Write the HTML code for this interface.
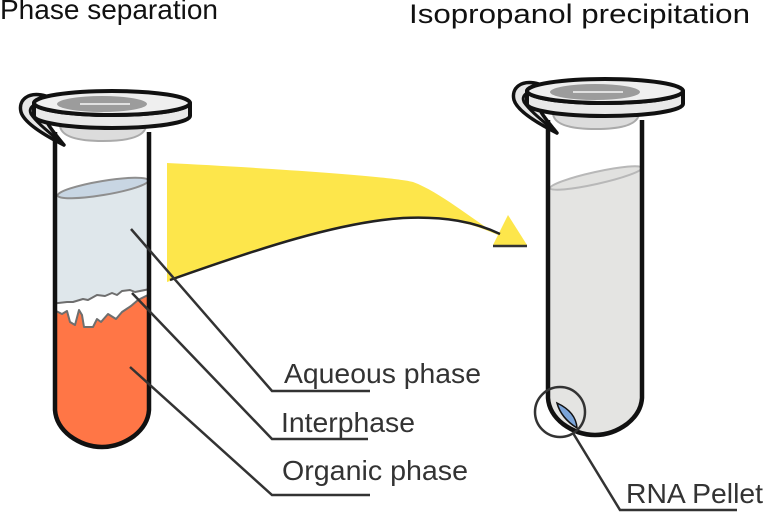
<!DOCTYPE html>
<html>
<head>
<meta charset="utf-8">
<style>
  html,body{margin:0;padding:0;background:#fff;}
  svg{display:block;}
  text{font-family:"Liberation Sans",Arial,sans-serif;}
</style>
</head>
<body>
<svg width="765" height="512" viewBox="0 0 765 512" xmlns="http://www.w3.org/2000/svg">
  <defs>
    <clipPath id="tubeL">
      <path d="M55,132 L55,410 Q56,425 70,436 Q85,447 102,447 Q119,447 134,436 Q148,425 149,410 L149,132 Z"/>
    </clipPath>
    <clipPath id="tubeR">
      <path d="M548,120 L548,398 Q549,413 563,424 Q578,435 595,435 Q612,435 627,424 Q641,413 642,398 L642,120 Z"/>
    </clipPath>
    <g id="lid">
      <!-- hinge -->
      <path d="M46,96 C28,91 18,100 21,112 C24,122 40,133 64,145 C52,130 44,122 44,110 Z" fill="#e6e6e6" stroke="#111" stroke-width="3.5" stroke-linejoin="round"/>
      <path d="M44,104 C34,102 28,108 31,114 C37,123 50,133 64,145" fill="none" stroke="#111" stroke-width="3"/>
      <!-- plug -->
      <path d="M60,126 Q62,141 103,141 Q144,141 146,126 Z" fill="#dcdcdc" stroke="#aaa" stroke-width="2"/>
      <!-- side band -->
      <path d="M34,103 A78,12 0 0 0 190,103 L190,116 A78,12 0 0 1 34,116 Z" fill="#e8e8e8" stroke="#111" stroke-width="4" stroke-linejoin="round"/>
      <!-- top -->
      <ellipse cx="112" cy="103" rx="78" ry="12" fill="#efefef" stroke="#111" stroke-width="4"/>
      <ellipse cx="102" cy="104" rx="45" ry="8" fill="#9c9c9c"/>
      <line x1="80" y1="104" x2="130" y2="104" stroke="#e0e0e0" stroke-width="2"/>
    </g>
  </defs>

  <!-- Titles -->
  <text x="0" y="19" font-size="28" fill="#111" textLength="218" lengthAdjust="spacingAndGlyphs">Phase separation</text>
  <text x="409" y="23" font-size="27" fill="#111" textLength="341" lengthAdjust="spacingAndGlyphs">Isopropanol precipitation</text>

  <!-- Yellow arrow -->
  <path d="M167,163 C250,167 390,176 413,182 C440,192 470,218 500,236 C470,222 440,216 403,218 C340,222 260,250 170,281 L167,282 Z" fill="#fde64b"/>
  <path d="M508,215 L527,245 L493,245 Z" fill="#fde64b"/>
  <path d="M170,280 C260,248 340,222 403,218 C445,216 475,222 500,234" fill="none" stroke="#222" stroke-width="2.5"/>
  <line x1="493" y1="246" x2="527" y2="246" stroke="#333" stroke-width="2.5"/>

  <!-- LEFT TUBE -->
  <g clip-path="url(#tubeL)">
    <path d="M50,196 L155,179 L155,320 L50,320 Z" fill="#dfe7eb"/>
    <path d="M50,304 L67,302 L73,302 L83,299 L88,300 L97,295 L105,296 L112,293 L117,295 L122,291 L130,290 L135,292 L155,288 L155,460 L50,460 Z" fill="#ff7646"/>
    <path d="M50,304 L67,302 L73,302 L83,299 L88,300 L97,295 L105,296 L112,293 L117,295 L122,291 L130,290 L135,292 L150,289 L150,294 L138,300 L131,306 L122,312 L116,319 L108,314 L101,322 L97,319 L93,327 L84,327 L82,315 L79,310 L75,325 L70,322 L67,311 L62,314 L50,308 Z" fill="#fff" stroke="#6e6e6e" stroke-width="2" stroke-linejoin="round"/>
  </g>
  <ellipse cx="103" cy="188" rx="46" ry="7" transform="rotate(-9.5 103 188)" fill="#c8d6e3" stroke="#8e8e8e" stroke-width="2"/>
  <path d="M55,132 L55,410 Q56,425 70,436 Q85,447 102,447 Q119,447 134,436 Q148,425 149,410 L149,132" fill="none" stroke="#111" stroke-width="4.5" stroke-linejoin="round"/>
  <use href="#lid"/>

  <!-- RIGHT TUBE -->
  <g clip-path="url(#tubeR)">
    <path d="M540,190 L650,166 L650,450 L540,450 Z" fill="#e4e4e2"/>
  </g>
  <ellipse cx="596" cy="178" rx="47" ry="6" transform="rotate(-12.5 596 178)" fill="#e1e1df" stroke="#b8b8b8" stroke-width="2"/>
  <path d="M557,403 Q561,418 577,428 Q576,412 557,403 Z" fill="#7ba4d8" stroke="#111" stroke-width="1.5"/>
  <path d="M548,120 L548,398 Q549,413 563,424 Q578,435 595,435 Q612,435 627,424 Q641,413 642,398 L642,120" fill="none" stroke="#111" stroke-width="4.5" stroke-linejoin="round"/>
  <g transform="translate(493,-12)"><use href="#lid"/></g>

  <!-- Leader lines -->
  <g fill="none" stroke="#333" stroke-width="2.5">
    <path d="M131,229 L272,391 L370,391"/>
    <path d="M132,293 L272,439 L368,439"/>
    <path d="M130,367 L272,495 L370,495"/>
    <circle cx="560" cy="412" r="25"/>
    <path d="M573,433 L620,510 L737,510"/>
  </g>

  <!-- Labels -->
  <g font-size="28" fill="#333">
    <text x="284" y="383" textLength="197" lengthAdjust="spacingAndGlyphs">Aqueous phase</text>
    <text x="281" y="432" textLength="134" lengthAdjust="spacingAndGlyphs">Interphase</text>
    <text x="282" y="480" textLength="186" lengthAdjust="spacingAndGlyphs">Organic phase</text>
    <text x="626" y="503" textLength="137" lengthAdjust="spacingAndGlyphs">RNA Pellet</text>
  </g>
</svg>
</body>
</html>
